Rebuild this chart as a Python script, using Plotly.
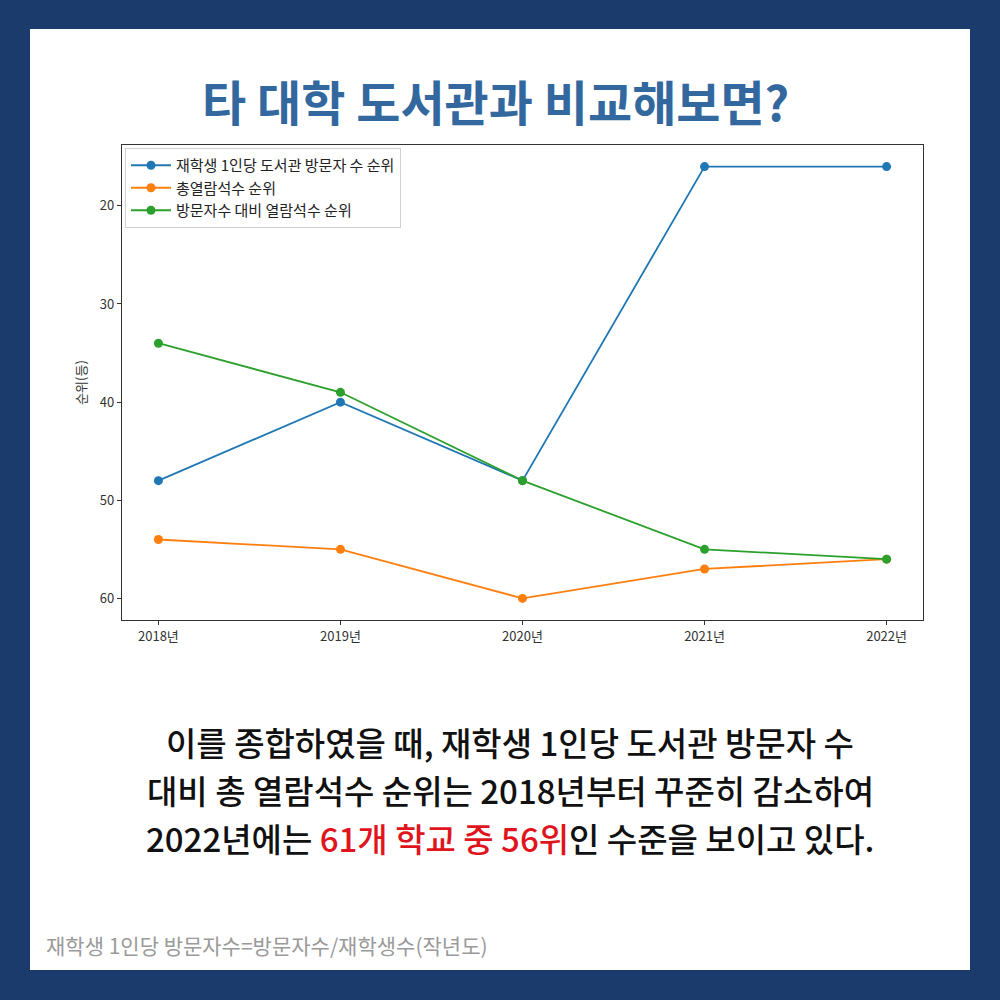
import plotly.graph_objects as go

# 연도별 순위 데이터
years = ["2018년", "2019년", "2020년", "2021년", "2022년"]
visit_rank = [48, 40, 48, 16, 16]      # 재학생 1인당 도서관 방문자 수 순위
seat_rank = [54, 55, 60, 57, 56]       # 총열람석수 순위
ratio_rank = [34, 39, 48, 55, 56]      # 방문자수 대비 열람석수 순위

series_names = ["재학생 1인당 도서관 방문자 수 순위", "총열람석수 순위", "방문자수 대비 열람석수 순위"]
series_colors = ["#1f77b4", "#ff7f0e", "#2ca02c"]

y_ticks = [20, 30, 40, 50, 60]

NAVY = "#1a3b6c"
KR = "Noto Sans CJK KR"

fig = go.Figure()
x_idx = list(range(len(years)))
for name, vals, col in zip(series_names, [visit_rank, seat_rank, ratio_rank], series_colors):
    fig.add_trace(go.Scatter(
        x=x_idx, y=vals, name=name, mode="lines+markers",
        line=dict(color=col, width=1.8),
        marker=dict(color=col, size=9),
    ))

# 흰색 패널 (바깥은 남색 테두리)
fig.add_shape(type="rect", xref="paper", yref="paper", x0=0.03, x1=0.97, y0=0.03, y1=0.971,
              fillcolor="white", line=dict(width=0), layer="below")

fig.add_annotation(x=0.495, y=1 - 0.100, xref="paper", yref="paper", text="<b>타 대학 도서관과 비교해보면?</b>",
                   showarrow=False, font=dict(family=KR, size=48, color="#33689f"), yanchor="middle")

# 본문 (줄 간격을 맞추기 위해 줄마다 따로)
body_lines = ["이를 종합하였을 때, 재학생 1인당 도서관 방문자 수",
              "대비 총 열람석수 순위는 2018년부터 꾸준히 감소하여",
              "2022년에는 <span style='color:#e0141c'>61개 학교 중 56위</span>인 수준을 보이고 있다."]
body_y = [742, 790, 838]
for txt, yy in zip(body_lines, body_y):
    fig.add_annotation(x=0.51, y=1 - yy / 1000, xref="paper", yref="paper", text=txt, showarrow=False,
                       font=dict(family=KR, size=33, color="#111111", weight=500), yanchor="middle",
                       borderpad=0)

fig.add_annotation(x=0.044, y=1 - 0.945, xref="paper", yref="paper", text="재학생 1인당 방문자수=방문자수/재학생수(작년도)",
                   showarrow=False, font=dict(family=KR, size=21, color="#9a9a9a"), xanchor="left", yanchor="middle")

fig.update_layout(
    width=1000, height=1000,
    margin=dict(l=0, r=0, t=0, b=0),
    paper_bgcolor=NAVY, plot_bgcolor="white",
    showlegend=True,
    legend=dict(x=0.125, y=0.852, xanchor="left", yanchor="top", bgcolor="rgba(255,255,255,0.9)",
                bordercolor="#d0d0d0", borderwidth=1, font=dict(family=KR, size=15, color="#222"),
                tracegroupgap=0, itemwidth=40),
    xaxis=dict(domain=[0.122, 0.923], range=[-0.2, 4.2], tickmode="array", tickvals=x_idx, ticktext=years,
               showgrid=False, zeroline=False, showline=True, linecolor="#333", linewidth=1.2, mirror=True,
               ticks="outside", ticklen=4, tickcolor="#333",
               tickfont=dict(family=KR, size=13, color="#333")),
    yaxis=dict(domain=[0.380, 0.855], range=[62.2, 13.8], tickvals=y_ticks,
               showgrid=False, zeroline=False, showline=True, linecolor="#333", linewidth=1.2, mirror=True,
               ticks="outside", ticklen=4, tickcolor="#333",
               tickfont=dict(family=KR, size=13, color="#333"),
               title=dict(text="순위(등)", font=dict(family=KR, size=13, color="#333"), standoff=10)),
)

fig.write_html("out.html", config={"displayModeBar": False},
               post_script="document.body.style.margin='0';")
